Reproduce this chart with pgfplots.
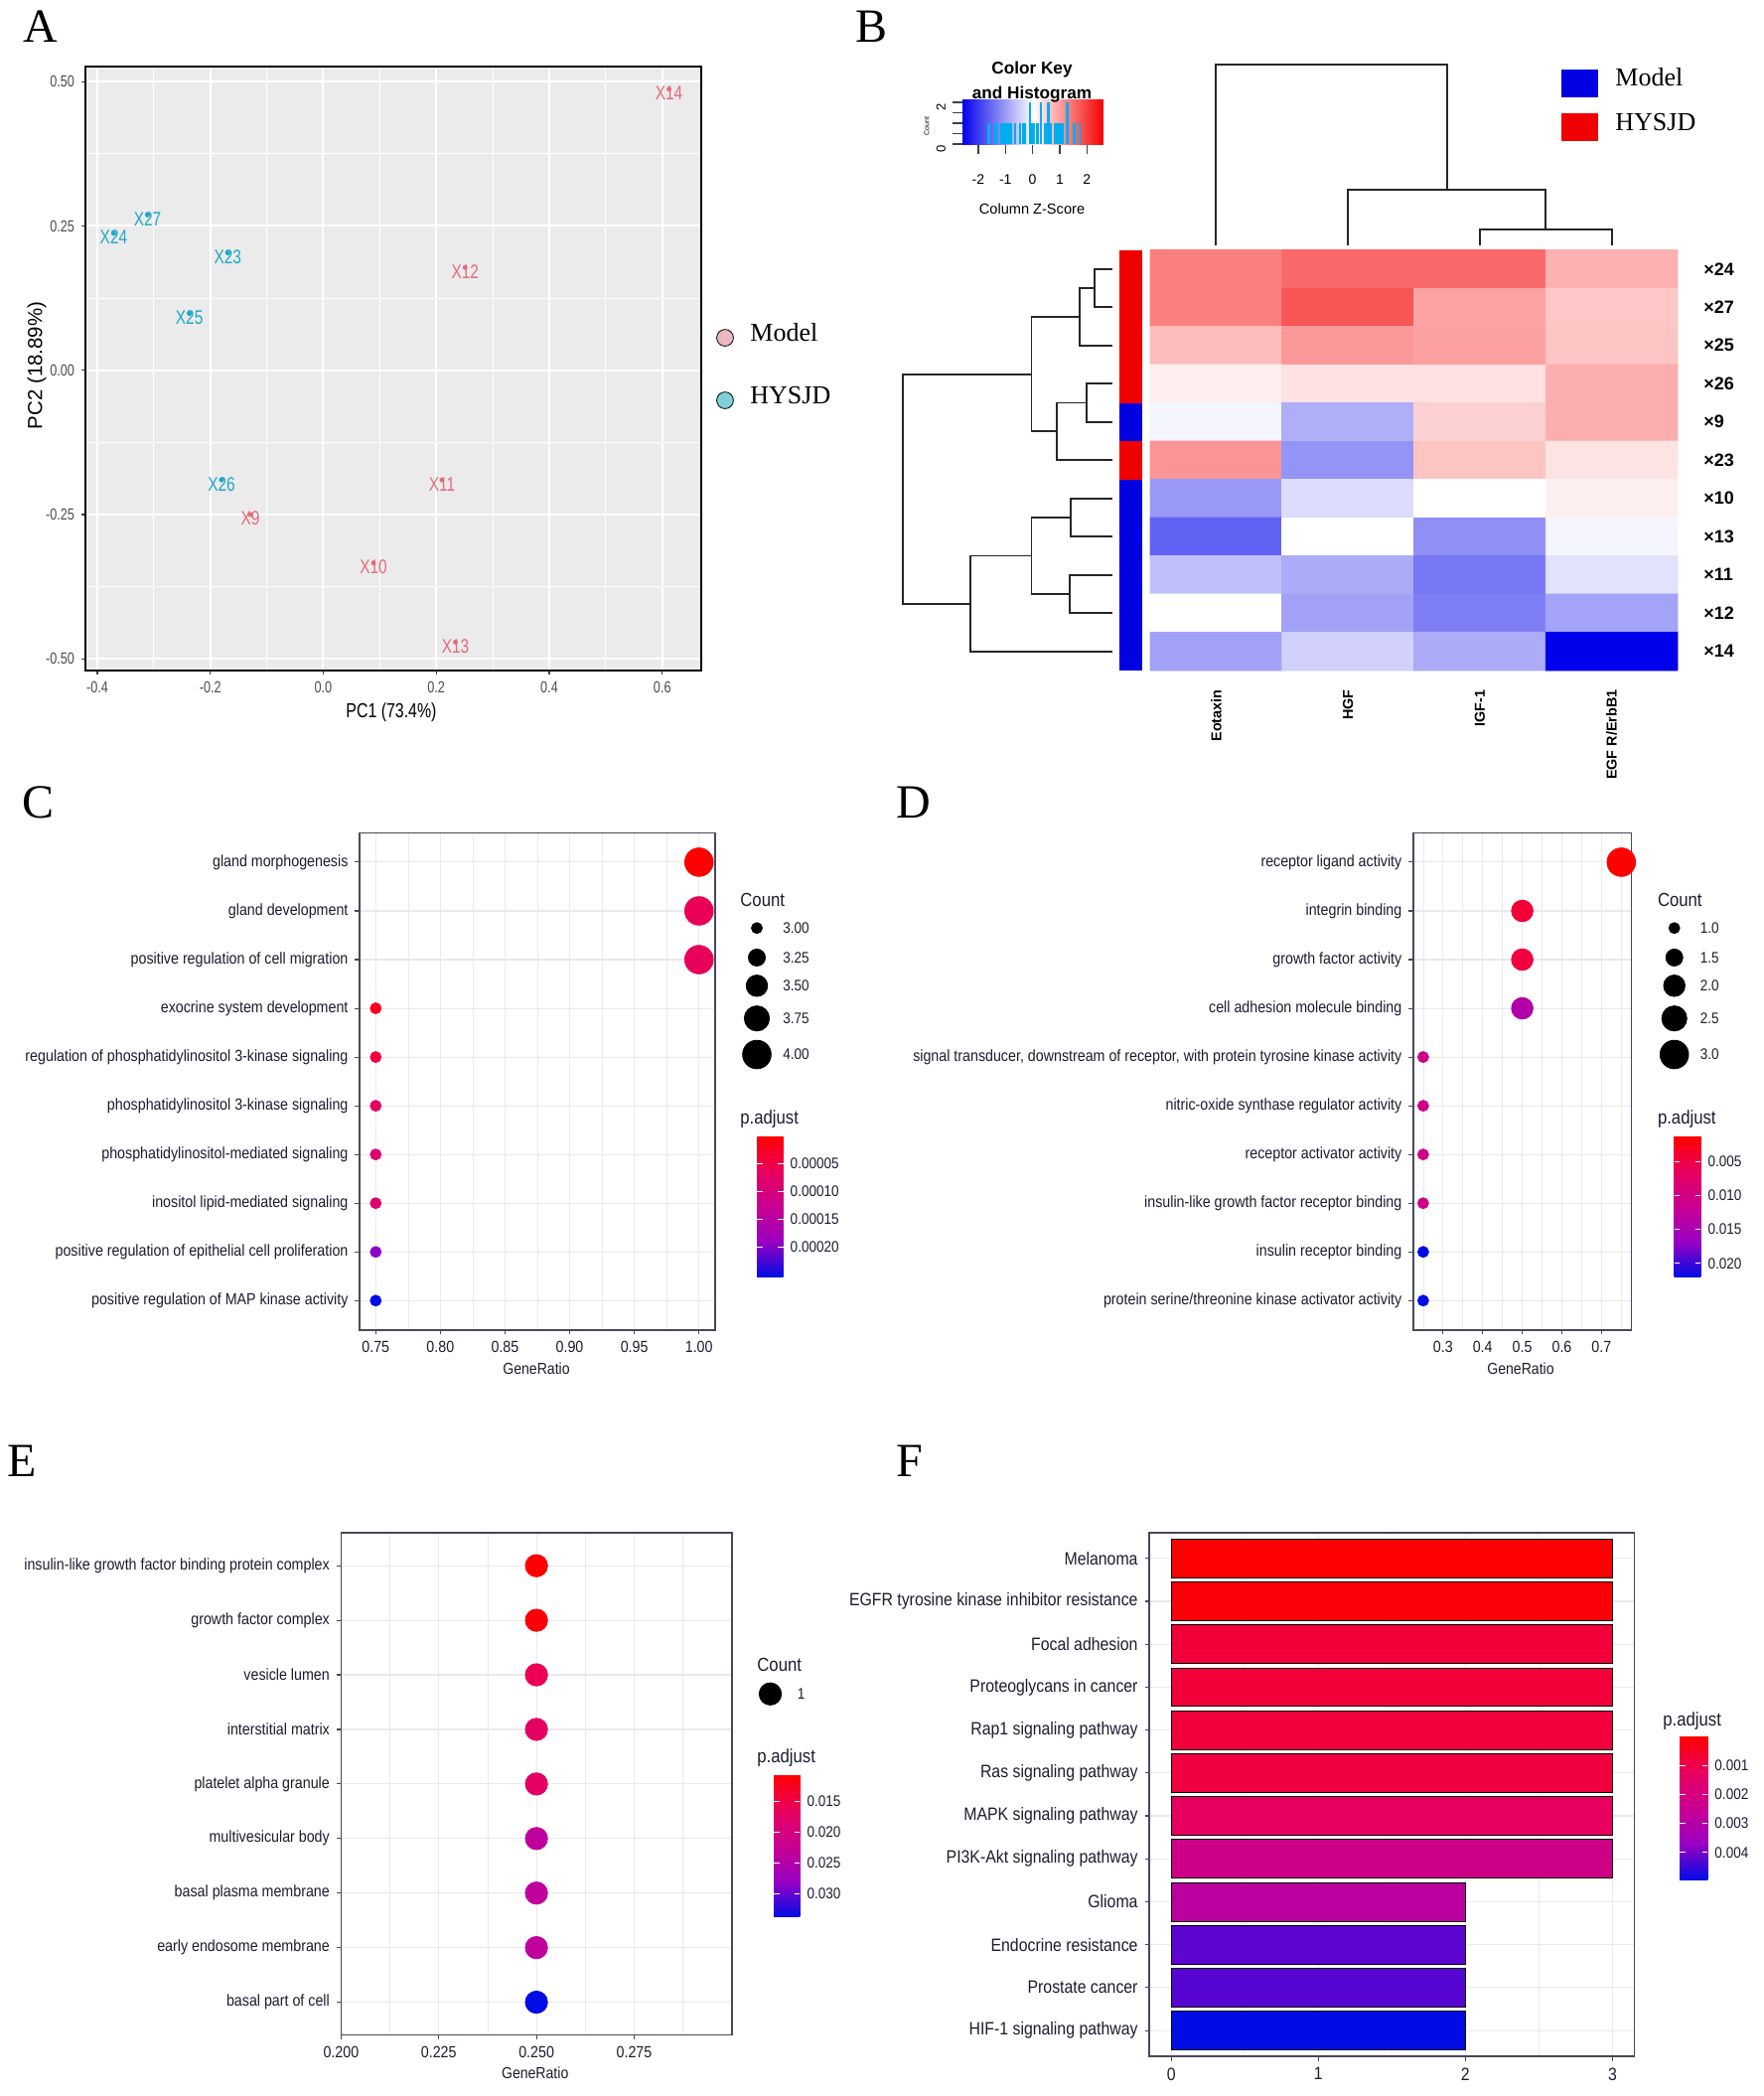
\documentclass[border=0pt]{standalone}
\usepackage{fontspec}
\setmainfont{Liberation Sans}
\newfontfamily\ggf{Liberation Sans}[FakeStretch=0.88]
\newfontfamily\pcaf{Liberation Sans}[FakeStretch=0.78]
\newfontfamily\serf{Liberation Serif}
\usepackage{pgfplots}
\usepackage{pgfplotstable}
\pgfplotsset{compat=1.18}

\definecolor{txt}{RGB}{28,28,48}
\definecolor{frm}{RGB}{72,72,92}
\definecolor{grd}{RGB}{234,234,236}
\definecolor{pbg}{RGB}{235,235,235}
\definecolor{modelc}{RGB}{226,108,124}
\definecolor{hysjdc}{RGB}{30,168,198}
\definecolor{modell}{RGB}{234,184,192}
\definecolor{hysjdl}{RGB}{128,208,218}
\definecolor{hblue}{RGB}{0,0,225}
\definecolor{hred}{RGB}{240,0,0}

\pgfplotsset{
  colormap={padj}{rgb255=(255,0,0) rgb255=(232,0,95) rgb255=(200,0,146) rgb255=(154,0,194) rgb255=(0,12,230)},
  colormap={bwr}{rgb255=(0,0,235) rgb255=(255,255,255) rgb255=(245,0,0)},
  gg/.style={
    scale only axis, anchor=north west, y dir=reverse,
    axis line style={draw=frm, line width=0.8pt},
    tick align=outside, major tick length=2.25pt, minor tick length=0pt,
    tick style={draw=frm, line width=0.55pt},
    xtick pos=left, ytick pos=left,
    xmajorgrids, ymajorgrids, xminorgrids,
    major grid style={draw=grd, line width=0.55pt},
    minor grid style={draw=grd, line width=0.3pt},
    ticklabel style={font=\ggf\fontsize{8.1pt}{9pt}\selectfont, text=txt},
    colormap name=padj,
  },
  cbar/.style n args={5}{
    colorbar, colorbar style={
      at={(parent axis.north east)}, anchor=north west,
      xshift=#1, yshift=#2, width=#3, height=#4, scale only axis,
      y dir=reverse, axis line style={draw=none},
      scaled y ticks=false,
      tick align=inside, major tick length=2.75pt,
      ytick pos=both, yticklabel pos=right,
      ytick style={draw=white, line width=0.5pt},
      yticklabel style={font=\ggf\fontsize{7.7pt}{8pt}\selectfont, text=txt},
      #5}},
  dend/.style={draw=black!85, line width=0.9pt},
  dots/.style={scatter, only marks, mark=*, point meta=explicit,
    scatter/use mapped color={draw=mapped color, fill=mapped color}},
}

% C: GO biological process
\pgfplotstableread{
i g n p
1 1.00 4 0.0000005
2 1.00 4 0.0000586
3 1.00 4 0.0000611
4 0.75 3 0.0000207
5 0.75 3 0.0000434
6 0.75 3 0.0000687
7 0.75 3 0.0000864
8 0.75 3 0.0000864
9 0.75 3 0.0001949
10 0.75 3 0.000253
}\tabC
% D: GO molecular function
\pgfplotstableread{
i g n p
1 0.75 3 0.00122
2 0.50 2 0.00430
3 0.50 2 0.00470
4 0.50 2 0.01410
5 0.25 1 0.01060
6 0.25 1 0.01060
7 0.25 1 0.01060
8 0.25 1 0.01060
9 0.25 1 0.02200
10 0.25 1 0.02200
}\tabD
% E: GO cellular component
\pgfplotstableread{
i g n p
1 0.25 1 0.01069
2 0.25 1 0.01110
3 0.25 1 0.01570
4 0.25 1 0.01700
5 0.25 1 0.01700
6 0.25 1 0.02340
7 0.25 1 0.02340
8 0.25 1 0.02340
9 0.25 1 0.03374
}\tabE
% F: KEGG
\pgfplotstableread{
i n p
1 3 0.000003
2 3 0.00010
3 3 0.00075
4 3 0.00075
5 3 0.00078
6 3 0.00082
7 3 0.00124
8 3 0.00222
9 2 0.00280
10 2 0.00420
11 2 0.00425
12 2 0.00494
}\tabF

\begin{document}
\begin{tikzpicture}
\path[use as bounding box, fill=white] (0,0) rectangle (888pt,-1055pt);

% ---------- A: PCA ----------
\begin{axis}[at={(43pt,-33.5pt)}, anchor=north west, scale only axis,
  width=310pt, height=304pt,
  xmin=-0.421, xmax=0.669, ymin=-0.520, ymax=0.526,
  axis background/.style={fill=pbg},
  axis line style={draw=black, line width=1pt},
  xtick={-0.4,-0.2,0,0.2,0.4,0.6}, xticklabels={-0.4,-0.2,0.0,0.2,0.4,0.6},
  ytick={-0.5,-0.25,0,0.25,0.5}, yticklabels={-0.50,-0.25,0.00,0.25,0.50},
  minor xtick={-0.3,-0.1,0.1,0.3,0.5}, minor ytick={-0.375,-0.125,0.125,0.375},
  grid=both, major grid style={draw=white, line width=1pt},
  minor grid style={draw=white, line width=0.5pt},
  tick align=outside, major tick length=2pt, minor tick length=0pt,
  tick style={draw=black!75, line width=0.6pt},
  xtick pos=left, ytick pos=left,
  ticklabel style={font=\pcaf\fontsize{8.1pt}{9pt}\selectfont, text=black!70},
  point meta=explicit symbolic,
  nodes near coords, nodes near coords align={center}]
\addplot[only marks, mark=*, mark size=1pt, color=modelc,
  every node near coord/.append style={text=modelc, inner sep=0pt, yshift=-2pt,
    font=\pcaf\fontsize{9.9pt}{10pt}\selectfont}]
  table[meta=lab] {
x y lab
0.612 0.487 X14
0.251 0.178 X12
0.210 -0.190 X11
0.089 -0.334 X10
0.234 -0.471 X13
-0.129 -0.250 X9
};
\addplot[only marks, mark=*, mark size=1pt, color=hysjdc,
  every node near coord/.append style={text=hysjdc, inner sep=0pt, yshift=-2pt,
    font=\pcaf\fontsize{9.9pt}{10pt}\selectfont}]
  table[meta=lab] {
x y lab
-0.180 -0.190 X26
-0.371 0.237 X24
-0.311 0.269 X27
-0.169 0.203 X23
-0.237 0.098 X25
};
\end{axis}

% ---------- B: heatmap with dendrograms ----------
\begin{axis}[at={(579pt,-125.75pt)}, anchor=north west, scale only axis,
  width=265.5pt, height=211.75pt, xmin=0, xmax=4, ymin=0, ymax=11, y dir=reverse,
  hide axis, clip=false, colormap name=bwr, point meta min=-2.6, point meta max=2.6]
\addplot[matrix plot*, mesh/cols=4, point meta=explicit] table[meta=z] {
x y z
0.5 0.5 1.30
1.5 0.5 1.53
2.5 0.5 1.53
3.5 0.5 0.81
0.5 1.5 1.30
1.5 1.5 1.74
2.5 1.5 0.94
3.5 1.5 0.57
0.5 2.5 0.68
1.5 2.5 1.04
2.5 2.5 0.96
3.5 2.5 0.60
0.5 3.5 0.18
1.5 3.5 0.31
2.5 3.5 0.31
3.5 3.5 0.83
0.5 4.5 -0.10
1.5 4.5 -0.81
2.5 4.5 0.47
3.5 4.5 0.83
0.5 5.5 1.09
1.5 5.5 -1.09
2.5 5.5 0.60
3.5 5.5 0.29
0.5 6.5 -1.04
1.5 6.5 -0.36
2.5 6.5 0.00
3.5 6.5 0.16
0.5 7.5 -1.61
1.5 7.5 0.00
2.5 7.5 -1.14
3.5 7.5 -0.10
0.5 8.5 -0.65
1.5 8.5 -0.86
2.5 8.5 -1.38
3.5 8.5 -0.29
0.5 9.5 0.00
1.5 9.5 -0.96
2.5 9.5 -1.30
3.5 9.5 -0.94
0.5 10.5 -0.96
1.5 10.5 -0.47
2.5 10.5 -0.86
3.5 10.5 -2.60
};
% group side bar
\addplot[fill=hred, draw=none] coordinates {(-0.2335,0) (-0.0603,0) (-0.0603,4) (-0.2335,4)} -- cycle;
\addplot[fill=hblue, draw=none] coordinates {(-0.2335,4) (-0.0603,4) (-0.0603,5) (-0.2335,5)} -- cycle;
\addplot[fill=hred, draw=none] coordinates {(-0.2335,5) (-0.0603,5) (-0.0603,6) (-0.2335,6)} -- cycle;
\addplot[fill=hblue, draw=none] coordinates {(-0.2335,6) (-0.0603,6) (-0.0603,11) (-0.2335,11)} -- cycle;
% row dendrogram
\addplot[dend] coordinates {(-0.286,0.5) (-0.424,0.5) (-0.424,1.5) (-0.286,1.5)};
\addplot[dend] coordinates {(-0.424,1.0) (-0.535,1.0) (-0.535,2.5) (-0.286,2.5)};
\addplot[dend] coordinates {(-0.286,3.5) (-0.480,3.5) (-0.480,4.5) (-0.286,4.5)};
\addplot[dend] coordinates {(-0.480,4.0) (-0.708,4.0) (-0.708,5.5) (-0.286,5.5)};
\addplot[dend] coordinates {(-0.535,1.75) (-0.901,1.75) (-0.901,4.75) (-0.708,4.75)};
\addplot[dend] coordinates {(-0.286,6.5) (-0.600,6.5) (-0.600,7.5) (-0.286,7.5)};
\addplot[dend] coordinates {(-0.286,8.5) (-0.610,8.5) (-0.610,9.5) (-0.286,9.5)};
\addplot[dend] coordinates {(-0.600,7.0) (-0.901,7.0) (-0.901,9.0) (-0.610,9.0)};
\addplot[dend] coordinates {(-0.901,8.0) (-1.363,8.0) (-1.363,10.5) (-0.286,10.5)};
\addplot[dend] coordinates {(-0.901,3.25) (-1.878,3.25) (-1.878,9.25) (-1.363,9.25)};
% column dendrogram
\addplot[dend] coordinates {(2.5,-0.106) (2.5,-0.543) (3.5,-0.543) (3.5,-0.106)};
\addplot[dend] coordinates {(1.5,-0.106) (1.5,-1.564) (3.0,-1.564) (3.0,-0.543)};
\addplot[dend] coordinates {(0.5,-0.106) (0.5,-4.85) (2.25,-4.85) (2.25,-1.564)};
\end{axis}

% colour key and histogram
\begin{axis}[at={(484.5pt,-50pt)}, anchor=north west, scale only axis,
  width=70.85pt, height=22.5pt, xmin=-2.58, xmax=2.6, ymin=0, ymax=2.14,
  axis line style={draw=none}, colormap name=bwr, point meta min=-2.6, point meta max=2.6,
  xtick={-2,-1,0,1,2}, xticklabels={-2,-1,0,1,2},
  ytick={0,0.5,1,1.5,2}, yticklabels={0,,,,2},
  tick align=outside, major tick length=5pt, minor tick length=0pt,
  tick style={draw=black!75, line width=0.65pt},
  xtick pos=left, ytick pos=left, clip=false,
  xticklabel style={font=\fontsize{7pt}{8pt}\selectfont, yshift=-7pt},
  yticklabel style={font=\fontsize{6.5pt}{7pt}\selectfont, rotate=90, anchor=south, xshift=-2.5pt}]
\addplot[surf, shader=interp, mesh/rows=2, point meta=explicit] table[meta=z] {
x y z
-2.58 0 -2.58
0 0 0
2.6 0 2.6
-2.58 2.14 -2.58
0 2.14 0
2.6 2.14 2.6
};
\addplot[ycomb, draw=cyan, line width=1.2pt] table {
z c
-1.61 1
-1.38 1
-1.30 1
-1.14 1
-1.09 1
-1.04 1
-0.96 1
-0.94 1
-0.86 1
-0.81 1
-0.65 1
-0.47 1
-0.36 1
-0.29 1
-0.10 2
-0.02 1
0.03 1
0.16 1
0.18 1
0.30 2
0.47 1
0.58 2
0.68 1
0.81 1
0.84 1
0.94 1
0.96 1
1.04 1
1.09 1
1.28 2
1.53 1
1.74 1
};
\end{axis}

% ---------- C ----------
\begin{axis}[gg, at={(181pt,-419.25pt)}, width=179pt, height=250.1pt,
  xmin=0.7375, xmax=1.0125, ymin=0.4, ymax=10.6,
  xtick={0.75,0.8,0.85,0.9,0.95,1.0}, xticklabels={0.75,0.80,0.85,0.90,0.95,1.00},
  minor xtick={0.775,0.825,0.875,0.925,0.975},
  ytick={1,...,10},
  yticklabels={gland morphogenesis, gland development, positive regulation of cell migration,
    exocrine system development, regulation of phosphatidylinositol 3-kinase signaling,
    phosphatidylinositol 3-kinase signaling, phosphatidylinositol-mediated signaling,
    inositol lipid-mediated signaling, positive regulation of epithelial cell proliferation,
    positive regulation of MAP kinase activity},
  point meta min=0.0000005, point meta max=0.000253,
  cbar={12.5pt}{-152.65pt}{13.3pt}{70.75pt}{ytick={0.00005,0.0001,0.00015,0.0002},
    yticklabels={0.00005,0.00010,0.00015,0.00020}}]
\addplot[dots,
  visualization depends on={sqrt(121+700*(\thisrow{n}-3))/4 \as \rad},
  scatter/@pre marker code/.append style={/tikz/mark size=\rad}]
  table[x=g, y=i, meta=p] {\tabC};
\end{axis}

% ---------- D ----------
\begin{axis}[gg, at={(711.45pt,-419.25pt)}, width=109.7pt, height=250.1pt,
  xmin=0.225, xmax=0.775, ymin=0.4, ymax=10.6,
  xtick={0.3,0.4,0.5,0.6,0.7}, xticklabels={0.3,0.4,0.5,0.6,0.7},
  minor xtick={0.25,0.35,0.45,0.55,0.65,0.75},
  ytick={1,...,10},
  yticklabels={receptor ligand activity, integrin binding, growth factor activity,
    cell adhesion molecule binding,
    {signal transducer, downstream of receptor, with protein tyrosine kinase activity},
    nitric-oxide synthase regulator activity, receptor activator activity,
    insulin-like growth factor receptor binding, insulin receptor binding,
    protein serine/threonine kinase activator activity},
  point meta min=0.00122, point meta max=0.0220,
  cbar={13.15pt}{-152.65pt}{13.4pt}{70.75pt}{ytick={0.005,0.01,0.015,0.02},
    yticklabels={0.005,0.010,0.015,0.020}}]
\addplot[dots,
  visualization depends on={sqrt(121+350*(\thisrow{n}-1))/4 \as \rad},
  scatter/@pre marker code/.append style={/tikz/mark size=\rad}]
  table[x=g, y=i, meta=p] {\tabD};
\end{axis}

% ---------- E ----------
\begin{axis}[gg, at={(171.7pt,-771.6pt)}, width=196.7pt, height=252.65pt,
  xmin=0.2, xmax=0.3, ymin=0.4, ymax=9.6,
  xtick={0.2,0.225,0.25,0.275}, xticklabels={0.200,0.225,0.250,0.275},
  minor xtick={0.2125,0.2375,0.2625,0.2875,0.3},
  ytick={1,...,9},
  yticklabels={insulin-like growth factor binding protein complex, growth factor complex,
    vesicle lumen, interstitial matrix, platelet alpha granule, multivesicular body,
    basal plasma membrane, early endosome membrane, basal part of cell},
  point meta min=0.01069, point meta max=0.03374,
  cbar={12.6pt}{-121.5pt}{13.2pt}{71.75pt}{ytick={0.015,0.02,0.025,0.03},
    yticklabels={0.015,0.020,0.025,0.030}}]
\addplot[dots, mark size=5.6pt] table[x=g, y=i, meta=p] {\tabE};
\end{axis}

% ---------- F ----------
% bar length per count unit: 244.25pt / 3.3 = 74.015pt; bar half height 0.45*21.607pt
\begin{axis}[gg, at={(578.55pt,-771.4pt)}, width=244.25pt, height=263.6pt,
  xmin=-0.15, xmax=3.15, ymin=0.4, ymax=12.6,
  xtick={0,1,2,3}, xticklabels={0,1,2,3}, minor xtick={0.5,1.5,2.5},
  ytick={1,...,12},
  yticklabels={Melanoma, EGFR tyrosine kinase inhibitor resistance, Focal adhesion,
    Proteoglycans in cancer, Rap1 signaling pathway, Ras signaling pathway,
    MAPK signaling pathway, PI3K-Akt signaling pathway, Glioma, Endocrine resistance,
    Prostate cancer, HIF-1 signaling pathway},
  ticklabel style={font=\ggf\fontsize{9pt}{10pt}\selectfont, text=txt},
  point meta min=0.000003, point meta max=0.00494,
  cbar={14.2pt}{-102.55pt}{14.15pt}{72.2pt}{ytick={0.001,0.002,0.003,0.004},
    yticklabels={0.001,0.002,0.003,0.004}}]
\addplot[scatter, only marks, mark=*, mark size=0pt, point meta=explicit,
  scatter/use mapped color={draw=none, fill=mapped color},
  visualization depends on={\thisrow{n}*74.015 \as \barlen},
  scatter/@pre marker code/.append code={\fill (-\barlen pt,-9.72pt) rectangle (0pt,9.72pt);}]
  table[x=n, y=i, meta=p] {\tabF};
\end{axis}

% ---------- overlay in pixel units: titles, legends, letters ----------
\begin{axis}[at={(0pt,0pt)}, anchor=north west, scale only axis, width=888pt, height=1055pt,
  xmin=0, xmax=1776, ymin=0, ymax=2110, y dir=reverse, hide axis, clip=false]
% panel letters
\node[anchor=base west, inner sep=0pt, font=\serf\fontsize{24pt}{24pt}\selectfont] at (axis cs:23,42) {A};
\node[anchor=base west, inner sep=0pt, font=\serf\fontsize{24pt}{24pt}\selectfont] at (axis cs:861,42) {B};
\node[anchor=base west, inner sep=0pt, font=\serf\fontsize{24pt}{24pt}\selectfont] at (axis cs:22,823.5) {C};
\node[anchor=base west, inner sep=0pt, font=\serf\fontsize{24pt}{24pt}\selectfont] at (axis cs:902,823.5) {D};
\node[anchor=base west, inner sep=0pt, font=\serf\fontsize{24pt}{24pt}\selectfont] at (axis cs:7,1486) {E};
\node[anchor=base west, inner sep=0pt, font=\serf\fontsize{24pt}{24pt}\selectfont] at (axis cs:902,1486) {F};
% A titles and legend
\node[font=\pcaf\fontsize{10.2pt}{11pt}\selectfont] at (axis cs:394,717) {PC1 (73.4\%)};
\node[rotate=90, font=\fontsize{10.2pt}{11pt}\selectfont] at (axis cs:37,368) {PC2 (18.89\%)};
\addplot[only marks, mark=*, mark size=4.2pt, draw=none, fill=modell] coordinates {(730,340)};
\addplot[only marks, mark=*, mark size=4.2pt, draw=none, fill=hysjdl] coordinates {(730,403)};
\node[anchor=base west, inner sep=0pt, font=\serf\fontsize{13pt}{13pt}\selectfont] at (axis cs:755,343.3) {Model};
\node[anchor=base west, inner sep=0pt, font=\serf\fontsize{13pt}{13pt}\selectfont] at (axis cs:755,406.7) {HYSJD};
% B legend
\addplot[fill=hblue, draw=none] coordinates {(1572,70) (1609,70) (1609,98) (1572,98)} -- cycle;
\addplot[fill=hred, draw=none] coordinates {(1572,114) (1609,114) (1609,142) (1572,142)} -- cycle;
\node[anchor=base west, inner sep=0pt, font=\serf\fontsize{13pt}{13pt}\selectfont] at (axis cs:1626,86.7) {Model};
\node[anchor=base west, inner sep=0pt, font=\serf\fontsize{13pt}{13pt}\selectfont] at (axis cs:1626,131.6) {HYSJD};
% B colour key text
\node[anchor=base, inner sep=0pt, font=\bfseries\fontsize{8.6pt}{9pt}\selectfont] at (axis cs:1039,74.5) {Color Key};
\node[anchor=base, inner sep=0pt, font=\bfseries\fontsize{8.6pt}{9pt}\selectfont] at (axis cs:1039,99.3) {and Histogram};
\node[anchor=base, inner sep=0pt, font=\fontsize{7.3pt}{8pt}\selectfont] at (axis cs:1039,215) {Column Z-Score};
\node[rotate=90, inner sep=0pt, font=\fontsize{3.5pt}{4pt}\selectfont] at (axis cs:933,126.7) {Count};
% B row and column labels
\foreach \lab/\yy in {24/270.75,27/309.25,25/347.75,26/386.25,9/424.75,23/463.25,10/501.75,13/540.25,11/578.75,12/617.25,14/655.75}{
  \edef\temp{\noexpand\node[anchor=west, inner sep=0pt, font=\noexpand\bfseries\noexpand\fontsize{9pt}{9pt}\noexpand\selectfont] at (axis cs:1715,\yy) {×\lab};}
  \temp
}
\node[rotate=90, anchor=east, inner sep=0pt, font=\bfseries\fontsize{7.2pt}{8pt}\selectfont] at (axis cs:1224.4,694) {Eotaxin};
\node[rotate=90, anchor=east, inner sep=0pt, font=\bfseries\fontsize{7.2pt}{8pt}\selectfont] at (axis cs:1357.1,694) {HGF};
\node[rotate=90, anchor=east, inner sep=0pt, font=\bfseries\fontsize{7.2pt}{8pt}\selectfont] at (axis cs:1489.9,694) {IGF-1};
\node[rotate=90, anchor=east, inner sep=0pt, font=\bfseries\fontsize{7.2pt}{8pt}\selectfont] at (axis cs:1622.6,694) {EGF R/ErbB1};
% C legends
\node[anchor=base, inner sep=0pt, font=\ggf\fontsize{8pt}{9pt}\selectfont, text=txt] at (axis cs:540,1383) {GeneRatio};
\node[anchor=base west, inner sep=0pt, font=\ggf\fontsize{9.5pt}{10pt}\selectfont, text=txt] at (axis cs:745,912.5) {Count};
\node[anchor=base west, inner sep=0pt, font=\ggf\fontsize{9.5pt}{10pt}\selectfont, text=txt] at (axis cs:745,1131.6) {p.adjust};
\addplot[only marks, mark=*, black, mark size=2.75pt] coordinates {(762,934.2)};
\addplot[only marks, mark=*, black, mark size=4.28pt] coordinates {(762,963.9)};
\addplot[only marks, mark=*, black, mark size=5.4pt] coordinates {(762,992.3)};
\addplot[only marks, mark=*, black, mark size=6.33pt] coordinates {(762,1025.2)};
\addplot[only marks, mark=*, black, mark size=7.18pt] coordinates {(762,1061.5)};
\foreach \lab/\yy in {3.00/934.2,3.25/963.9,3.50/992.3,3.75/1025.2,4.00/1061.5}{
  \edef\temp{\noexpand\node[anchor=west, inner sep=0pt, font=\noexpand\ggf\noexpand\fontsize{7.7pt}{8pt}\noexpand\selectfont, text=txt] at (axis cs:788,\yy) {\lab};}
  \temp
}
% D legends
\node[anchor=base, inner sep=0pt, font=\ggf\fontsize{8pt}{9pt}\selectfont, text=txt] at (axis cs:1531,1383) {GeneRatio};
\node[anchor=base west, inner sep=0pt, font=\ggf\fontsize{9.5pt}{10pt}\selectfont, text=txt] at (axis cs:1668.6,912.5) {Count};
\node[anchor=base west, inner sep=0pt, font=\ggf\fontsize{9.5pt}{10pt}\selectfont, text=txt] at (axis cs:1668.6,1131.6) {p.adjust};
\addplot[only marks, mark=*, black, mark size=2.75pt] coordinates {(1685.7,934.2)};
\addplot[only marks, mark=*, black, mark size=4.28pt] coordinates {(1685.7,963.9)};
\addplot[only marks, mark=*, black, mark size=5.4pt] coordinates {(1685.7,992.3)};
\addplot[only marks, mark=*, black, mark size=6.33pt] coordinates {(1685.7,1025.2)};
\addplot[only marks, mark=*, black, mark size=7.18pt] coordinates {(1685.7,1061.5)};
\foreach \lab/\yy in {1.0/934.2,1.5/963.9,2.0/992.3,2.5/1025.2,3.0/1061.5}{
  \edef\temp{\noexpand\node[anchor=west, inner sep=0pt, font=\noexpand\ggf\noexpand\fontsize{7.7pt}{8pt}\noexpand\selectfont, text=txt] at (axis cs:1711.4,\yy) {\lab};}
  \temp
}
% E legends
\node[anchor=base, inner sep=0pt, font=\ggf\fontsize{8pt}{9pt}\selectfont, text=txt] at (axis cs:538.7,2092) {GeneRatio};
\node[anchor=base west, inner sep=0pt, font=\ggf\fontsize{9.5pt}{10pt}\selectfont, text=txt] at (axis cs:762,1682) {Count};
\node[anchor=base west, inner sep=0pt, font=\ggf\fontsize{9.5pt}{10pt}\selectfont, text=txt] at (axis cs:762,1774.7) {p.adjust};
\addplot[only marks, mark=*, black, mark size=5.6pt] coordinates {(775.5,1705.2)};
\node[anchor=west, inner sep=0pt, font=\ggf\fontsize{7.7pt}{8pt}\selectfont, text=txt] at (axis cs:802.5,1705.2) {1};
% F legend
\node[anchor=base west, inner sep=0pt, font=\ggf\fontsize{9.5pt}{10pt}\selectfont, text=txt] at (axis cs:1674,1737.3) {p.adjust};
\end{axis}
\end{tikzpicture}
\end{document}
